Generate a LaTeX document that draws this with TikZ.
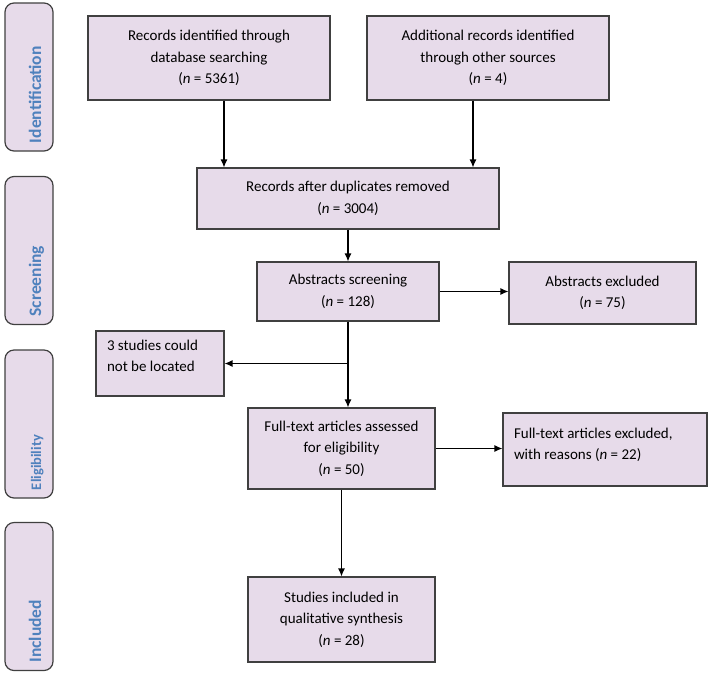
\documentclass[tikz,border=0pt]{standalone}
\usepackage{fontspec}
\setmainfont{Carlito}
\usepackage{xcolor}
\usetikzlibrary{arrows.meta,calc,positioning}

\definecolor{boxfill}{RGB}{231,219,234}
\definecolor{stageblue}{RGB}{79,129,189}
\definecolor{edgegray}{RGB}{64,64,64}

\begin{document}
\begin{tikzpicture}[x=1pt,y=-1pt,
	  every node/.style={align=center,font=\fontsize{15}{21.5}\selectfont},
	  record/.style={draw=edgegray,line width=1.1pt,fill=boxfill,inner sep=0pt},
	  stage/.style={draw=edgegray,line width=1.2pt,fill=boxfill,rounded corners=9pt,rotate=90,
	    minimum width=148pt,minimum height=48pt,inner xsep=8pt,inner ysep=0pt,
	    text width=132pt,align=left,text height=24pt,text depth=0pt,text=stageblue},
	  to/.style={-{Latex[length=8pt,width=7pt]},line width=1.2pt}]

	  \useasboundingbox (0,0) rectangle (709,673);

	  % stage tabs on the left
	  \node[stage,font=\fontsize{17.5}{20}\selectfont\bfseries] (identification) at (29,77) {Identification};
	  \node[stage,font=\fontsize{17.5}{20}\selectfont\bfseries] (screening) at (29,250.5) {Screening};
	  \node[stage,font=\fontsize{14.5}{18}\selectfont\bfseries] (eligibility) at (29,424) {Eligibility};
	  \node[stage,font=\fontsize{17.5}{20}\selectfont\bfseries] (inclusion) at (29,596.5) {Included};

	  % record boxes
	  \node[record,minimum width=242pt,minimum height=84pt] (dbsearch) at (209,58)
	    {Records identified through\\database searching\\(\textit{n} = 5361)};
	  \node[record,minimum width=242pt,minimum height=84pt] (othersrc) at (488,58)
	    {Additional records identified\\through other sources\\(\textit{n} = 4)};
	  \node[record,minimum width=302pt,minimum height=61pt] (dedup) at (348,198.5)
	    {Records after duplicates removed\\(\textit{n} = 3004)};
	  \node[record,minimum width=182pt,minimum height=59pt] (abstracts) at (348,291.5)
	    {Abstracts screening\\(\textit{n} = 128)};
	  \node[record,minimum width=187pt,minimum height=62pt] (absexcl) at (602.5,293)
	    {Abstracts excluded\\(\textit{n} = 75)};
	  \node[record,minimum width=128pt,minimum height=65pt] (notlocated) at (160,363.5)
	    {\begin{minipage}[c][47pt][t]{106pt}\raggedright 3 studies could\\not be located\end{minipage}};
	  \node[record,minimum width=187pt,minimum height=81pt] (fulltext) at (341.5,448.5)
	    {Full-text articles assessed\\for eligibility\\(\textit{n} = 50)};
	  \node[record,minimum width=204pt,minimum height=73pt] (ftexcl) at (605,449.5)
	    {\begin{minipage}[c][43pt][t]{182pt}\raggedright Full-text articles excluded,\\with reasons (\textit{n} = 22)\end{minipage}};
	  \node[record,minimum width=187pt,minimum height=85pt] (included) at (341.5,619.5)
	    {Studies included in\\qualitative synthesis\\(\textit{n} = 28)};

	  % connectors
	  \coordinate (dbdrop) at ($(dbsearch.south)+(15,0)$);
	  \coordinate (otherdrop) at ($(othersrc.south)+(-15,0)$);
	  \coordinate (branch) at (abstracts.south |- notlocated.east);
	  \draw[to] (dbdrop) -- (dbdrop |- dedup.north);
	  \draw[to] (otherdrop) -- (otherdrop |- dedup.north);
	  \draw[to] (dedup) -- (abstracts);
	  \draw[to] (abstracts.east) -- (absexcl.west |- abstracts.east);
	  \draw[to] (abstracts.south) -- (abstracts.south |- fulltext.north);
	  \draw[to] (branch) -- (notlocated.east);
	  \draw[to] (fulltext.east) -- (ftexcl.west |- fulltext.east);
	  \draw[to] (fulltext) -- (included);
\end{tikzpicture}
\end{document}
